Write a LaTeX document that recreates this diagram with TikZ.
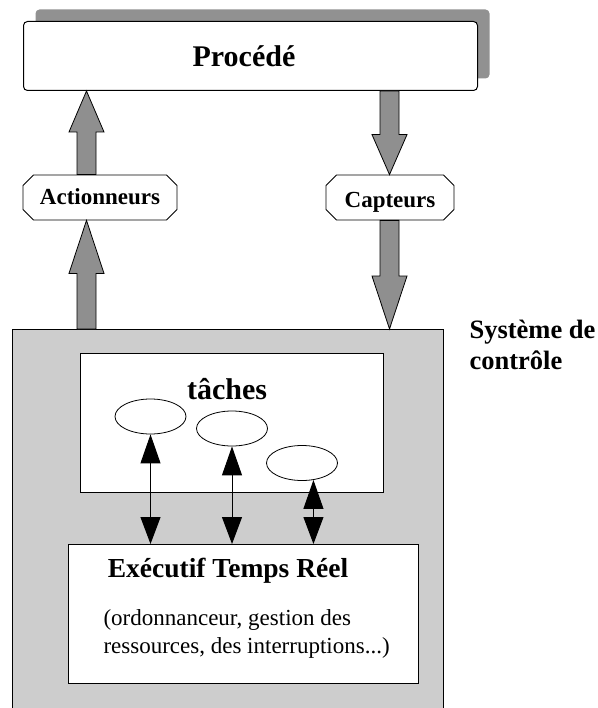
\documentclass[tikz,border=0pt]{standalone}
\usepackage{fontspec}
\setmainfont{Liberation Serif}
\usetikzlibrary{arrows.meta,shapes.misc,shapes.geometric,shadows,calc}

\definecolor{arrowgray}{RGB}{143,143,143}
\definecolor{shadowgray}{RGB}{145,145,145}
\definecolor{sysgray}{RGB}{205,205,205}

% Broad grey arrow from #1 (tail) to #2 (tip), head length #3
\newcommand{\fatarrow}[3]{%
  \path (#2) coordinate (fa-tip) ($(#2)!#3!(#1)$) coordinate (fa-base);
  \draw[fatarrow]
    ($(#1)!9.5pt!90:(fa-tip)$) -- ($(fa-base)!9.5pt!90:(fa-tip)$)
    -- ($(fa-base)!17.5pt!90:(fa-tip)$) -- (fa-tip)
    -- ($(fa-base)!17.5pt!-90:(fa-tip)$) -- ($(fa-base)!9.5pt!-90:(fa-tip)$)
    -- ($(#1)!9.5pt!-90:(fa-tip)$) -- cycle;}

\begin{document}
\begin{tikzpicture}[x=1pt,y=-1pt,
  box/.style={draw, line width=1pt, inner sep=0pt, anchor=north west},
  chambox/.style={chamfered rectangle, chamfered rectangle xsep=10pt,
    draw, fill=white, line width=0.8pt, inner sep=0pt, minimum height=45pt,
    text height=15pt, text depth=0pt},
  tache/.style={ellipse, draw, line width=0.8pt, fill=white, inner sep=0pt,
    minimum width=71pt, minimum height=35pt},
  fatarrow/.style={draw, line width=0.8pt, fill=arrowgray, line join=miter},
  biarrow/.style={line width=1pt,
    {Triangle[width=20pt,length=29pt]}-{Triangle[width=20pt,length=27pt]}},
  titlefont/.style={font=\fontsize{30pt}{36pt}\selectfont\bfseries},
  midfont/.style={font=\fontsize{27.5pt}{33pt}\selectfont\bfseries},
  sidefont/.style={font=\fontsize{26.5pt}{32pt}\selectfont\bfseries},
  labelfont/.style={font=\fontsize{23pt}{28pt}\selectfont\bfseries},
  plainfont/.style={font=\fontsize{23pt}{28pt}\selectfont},
]
\useasboundingbox (0,0) rectangle (597,708);

% Process box with its grey shadow
\node[box, rounded corners=4pt, fill=white,
  drop shadow={shadow xshift=12pt, shadow yshift=12pt, fill=shadowgray, opacity=1},
  minimum width=454pt, minimum height=69pt] (proc) at (23,21) {};
\node[titlefont, anchor=base] (proclbl) at (244,67) {Procédé};

% Actuators and sensors
\node[chambox, labelfont, minimum width=154pt] (act) at (100,197.5) {Actionneurs};
\node[chambox, labelfont, minimum width=128pt] (capt) at (390,197.5) {\raisebox{-2.5pt}{Capteurs}};

% Control system
\node[box, fill=sysgray, minimum width=431pt, minimum height=390pt] (sys) at (12,329) {};
\node[sidefont, anchor=base west] (syslbl1) at (466,338) {Système de};
\node[sidefont, anchor=base west] (syslbl2) at (466,369) {contrôle};

\coordinate (xl) at (86.5,0);
\coordinate (xr) at (389.5,0);
\fatarrow{xl |- act.north}{xl |- proc.south}{41pt}
\fatarrow{xl |- sys.north}{xl |- act.south}{53pt}
\fatarrow{xr |- proc.south}{xr |- capt.north}{40pt}
\fatarrow{xr |- capt.south}{xr |- sys.north}{53pt}

% Tasks
\node[box, fill=white, minimum width=303pt, minimum height=139pt] (tasks) at (80,353) {};
\node[titlefont, anchor=base] (taskslbl) at (227,399) {tâches};
\node[tache] (e1) at (150.5,416.5) {};
\node[tache] (e2) at (232,428.5) {};
\node[tache] (e3) at (302,463) {};

% Real-time executive
\node[box, fill=white, minimum width=350pt, minimum height=139pt] (exec) at (68,544) {};
\node[midfont, anchor=base] (execlbl) at (228,577) {Exécutif Temps Réel};
\node[plainfont, anchor=base west] (sub1) at (100,625) {(ordonnanceur, gestion des};
\node[plainfont, anchor=base west] (sub2) at (100,653) {ressources, des interruptions...)};

% Task / executive links
\draw[biarrow] (e1.south) -- (e1.south |- exec.north);
\draw[biarrow] (e2.south) -- (e2.south |- exec.north);
\draw[biarrow] (e3.-56) -- (e3.-56 |- exec.north);
\end{tikzpicture}
\end{document}
